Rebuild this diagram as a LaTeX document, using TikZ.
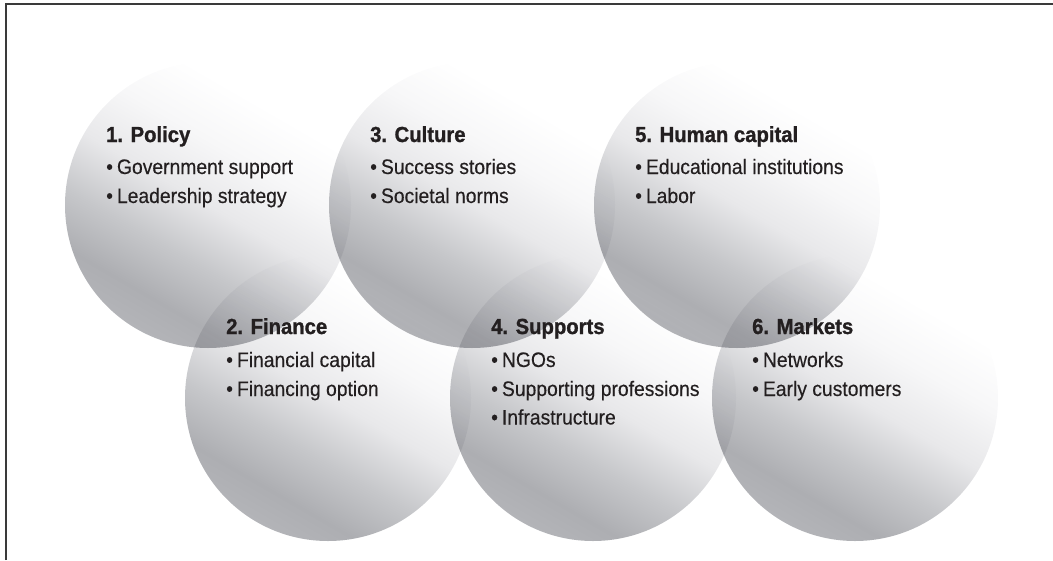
\documentclass[tikz,border=0pt]{standalone}
\usepackage{fontspec}
\newfontfamily\headfont{Liberation Sans}[FakeStretch=0.93, FakeBold=1.2]
\newfontfamily\bodyfont{Liberation Sans}[FakeStretch=0.92, FakeBold=0.3]

\definecolor{ink}{HTML}{231F20}
\definecolor{framecol}{HTML}{3A3A3A}
\definecolor{shA}{HTML}{B3B4B8}
\definecolor{shB}{HTML}{ADAEB2}
\definecolor{shC}{HTML}{C6C7CA}
\definecolor{shD}{HTML}{E8E8EA}
\definecolor{shE}{HTML}{F7F7F8}

% grey-to-white disc gradient, dark at the lower rim
\pgfdeclareverticalshading{discshade}{100bp}{%
  color(0bp)=(shA); color(25bp)=(shA); color(31bp)=(shB);
  color(40bp)=(shC); color(50bp)=(shD); color(60bp)=(shE);
  color(70bp)=(white); color(100bp)=(white)}

\tikzset{
  disc/.style={circle, inner sep=0pt, minimum size=286pt,
    shading=discshade, shading angle=-30},
  head/.style={anchor=base west, inner sep=0pt, text=ink,
    font=\headfont\bfseries\fontsize{21.8}{24}\selectfont},
  item/.style={anchor=base west, inner sep=0pt, text=ink,
    font=\bodyfont\fontsize{21}{24}\selectfont},
  frameline/.style={draw=framecol, line width=1.2pt},
}
\newcommand{\bul}{\textbullet\hspace{4pt}}

\begin{document}
\begin{tikzpicture}[x=1pt, y=-1pt]
\useasboundingbox (0,0) rectangle (1053,560);

% frame along the top and left
\coordinate (fbl) at (6,560);
\coordinate (ftl) at (6,4);
\coordinate (ftr) at (1053,4);
\draw[frameline] (fbl) -- (ftl) -- (ftr);

% six overlapping discs
\begin{scope}[blend mode=multiply]
  \node[disc] (c1) at (208,205) {};
  \node[disc] (c3) at (472,205) {};
  \node[disc] (c5) at (737,205) {};
  \node[disc] (c2) at (328,398) {};
  \node[disc] (c4) at (593,398) {};
  \node[disc] (c6) at (855,398) {};
\end{scope}

% 1. Policy
\node[head] (h1) at (106,142) {1. Policy};
\node[item] (i1a) at (106,174) {\bul Government support};
\node[item] (i1b) at (106,203) {\bul Leadership strategy};

% 3. Culture
\node[head] (h3) at (370,142) {3. Culture};
\node[item] (i3a) at (370,174) {\bul Success stories};
\node[item] (i3b) at (370,203) {\bul Societal norms};

% 5. Human capital
\node[head] (h5) at (635,142) {5. Human capital};
\node[item] (i5a) at (635,174) {\bul Educational institutions};
\node[item] (i5b) at (635,203) {\bul Labor};

% 2. Finance
\node[head] (h2) at (226,334) {2. Finance};
\node[item] (i2a) at (226,367) {\bul Financial capital};
\node[item] (i2b) at (226,396) {\bul Financing option};

% 4. Supports
\node[head] (h4) at (491,334) {4. Supports};
\node[item] (i4a) at (491,367) {\bul NGOs};
\node[item] (i4b) at (491,396) {\bul Supporting professions};
\node[item] (i4c) at (491,424.5) {\bul Infrastructure};

% 6. Markets
\node[head] (h6) at (752,334) {6. Markets};
\node[item] (i6a) at (752,367) {\bul Networks};
\node[item] (i6b) at (752,396) {\bul Early customers};
\end{tikzpicture}
\end{document}
